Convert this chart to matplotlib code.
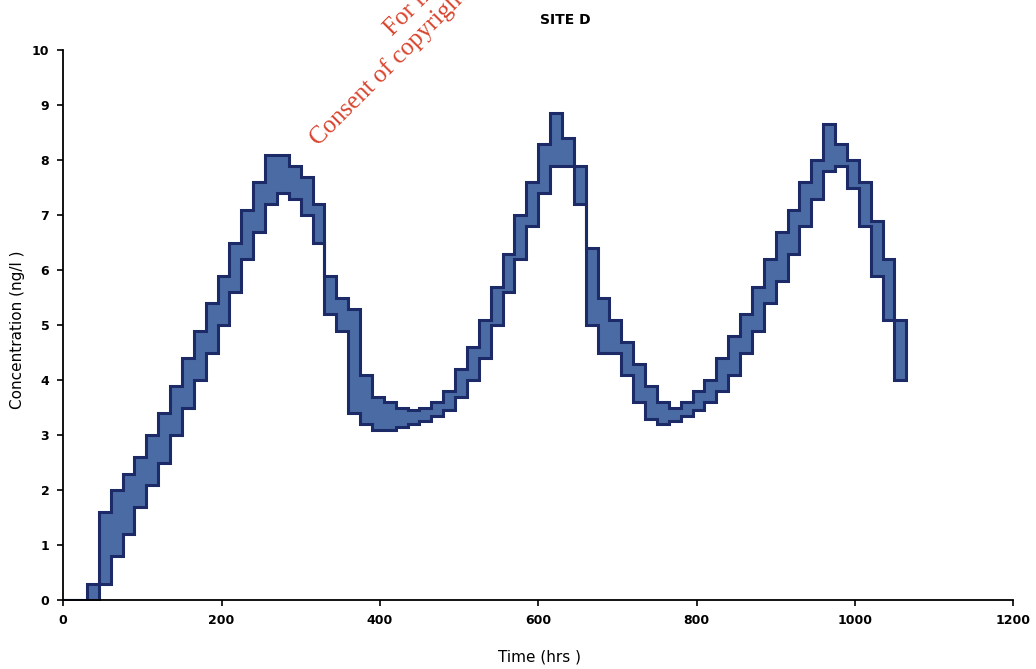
import matplotlib.pyplot as plt

# time (hrs) and envelope of the concentration band (ng/l)
hours = [0, 15, 30, 45, 60, 75, 90, 105, 120, 135, 150, 165, 180, 195, 210, 225,
         240, 255, 270, 285, 300, 315, 330, 345, 360, 375, 390, 405, 420, 435,
         450, 465, 480, 495, 510, 525, 540, 555, 570, 585, 600, 615, 630, 645,
         660, 675, 690, 705, 720, 735, 750, 765, 780, 795, 810, 825, 840, 855,
         870, 885, 900, 915, 930, 945, 960, 975, 990, 1005, 1020, 1035, 1050, 1065]
upper = [0, 0, 0.3, 1.6, 2.0, 2.3, 2.6, 3.0, 3.4, 3.9, 4.4, 4.9, 5.4, 5.9, 6.5, 7.1,
         7.6, 8.1, 8.1, 7.9, 7.7, 7.2, 5.9, 5.5, 5.3, 4.1, 3.7, 3.6, 3.5, 3.45,
         3.5, 3.6, 3.8, 4.2, 4.6, 5.1, 5.7, 6.3, 7.0, 7.6, 8.3, 8.85, 8.4, 7.9,
         6.4, 5.5, 5.1, 4.7, 4.3, 3.9, 3.6, 3.5, 3.6, 3.8, 4.0, 4.4, 4.8, 5.2,
         5.7, 6.2, 6.7, 7.1, 7.6, 8.0, 8.65, 8.3, 8.0, 7.6, 6.9, 6.2, 5.1, 4.9]
lower = [0, 0, 0, 0.3, 0.8, 1.2, 1.7, 2.1, 2.5, 3.0, 3.5, 4.0, 4.5, 5.0, 5.6, 6.2,
         6.7, 7.2, 7.4, 7.3, 7.0, 6.5, 5.2, 4.9, 3.4, 3.2, 3.1, 3.1, 3.15, 3.2,
         3.25, 3.35, 3.45, 3.7, 4.0, 4.4, 5.0, 5.6, 6.2, 6.8, 7.4, 7.9, 7.9, 7.2,
         5.0, 4.5, 4.5, 4.1, 3.6, 3.3, 3.2, 3.25, 3.35, 3.45, 3.6, 3.8, 4.1, 4.5,
         4.9, 5.4, 5.8, 6.3, 6.8, 7.3, 7.8, 7.9, 7.5, 6.8, 5.9, 5.1, 4.0, 4.4]

fig = plt.figure(figsize=(10.36, 6.69), dpi=100)
ax = fig.add_axes([0.061, 0.103, 0.917, 0.822])

fill_col = '#4b6ba4'
edge_col = '#1c2a68'
ax.fill_between(hours, lower, upper, step='post', facecolor=fill_col,
                edgecolor=edge_col, linewidth=2.2, joinstyle='miter')

ax.set_xlim(0, 1200)
ax.set_ylim(0, 10)
ax.set_xticks(range(0, 1201, 200))
ax.set_yticks(range(0, 11))
for s in ['top', 'right']:
    ax.spines[s].set_visible(False)
for s in ['left', 'bottom']:
    ax.spines[s].set_linewidth(1.3)
ax.tick_params(direction='out', length=4, width=1.2, labelsize=9, pad=6)
for lab in ax.get_xticklabels() + ax.get_yticklabels():
    lab.set_fontweight('bold')

fig.text(565 / 1036, 1 - 20 / 669, 'SITE D', ha='center', va='center',
         fontsize=10, fontweight='bold')
fig.text(540 / 1036, 1 - 657 / 669, 'Time (hrs )', ha='center', va='center',
         fontsize=11)
fig.text(18 / 1036, 1 - 330 / 669, 'Concentration (ng/l )', ha='center',
         va='center', rotation=90, fontsize=11)

# watermark, runs off the top edge as in the scan
wm = '#d8432c'
fig.text(318 / 1036, 1 - 146 / 669, 'Consent of copyright owner required for any other use.',
         rotation=45, ha='left', va='baseline', rotation_mode='anchor',
         color=wm, fontsize=18, family='Liberation Serif')
fig.text(392 / 1036, 1 - 36 / 669, 'For inspection purposes only.',
         rotation=45, ha='left', va='baseline', rotation_mode='anchor',
         color=wm, fontsize=18, family='Liberation Serif')

fig.savefig('out.png', dpi=100)
